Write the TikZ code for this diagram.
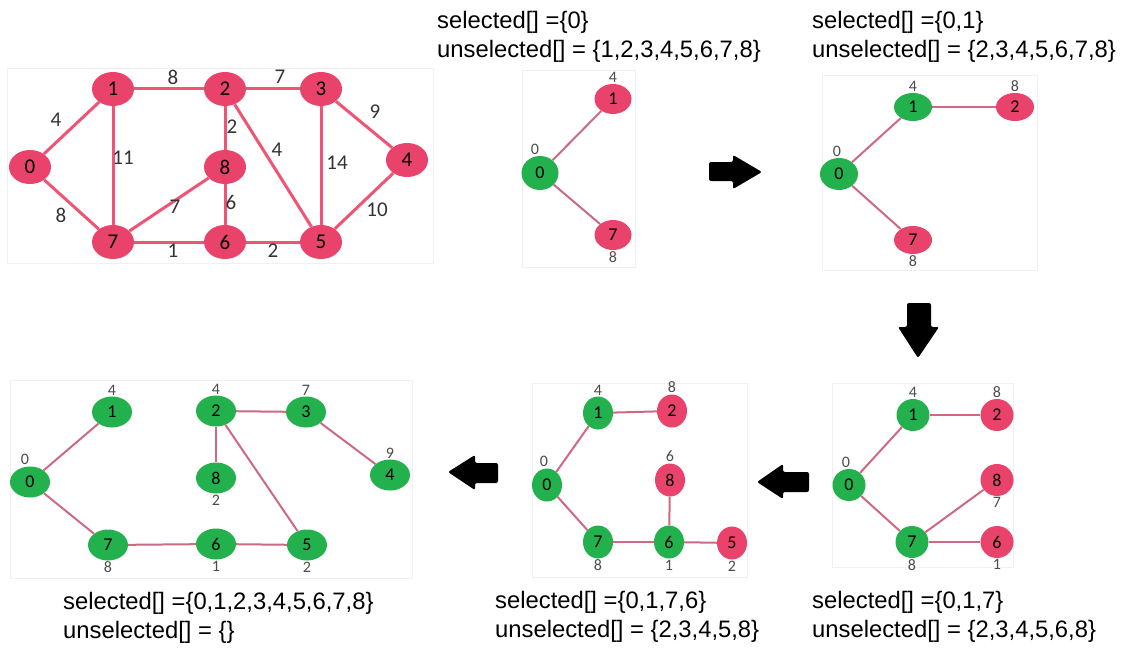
\documentclass[tikz,border=0pt]{standalone}
\usepackage{fontspec}
\setmainfont{Liberation Sans}
\newfontfamily\numfont{Carlito}
\usetikzlibrary{shapes.geometric}
\definecolor{nodered}{RGB}{233,67,107}
\definecolor{nodegreen}{RGB}{34,177,76}
\definecolor{edgered}{RGB}{238,85,117}
\definecolor{edgepink}{RGB}{205,105,128}

\begin{document}
\begin{tikzpicture}
  [x=1pt,y=-1pt,label distance=1pt,
   vsize/.style={minimum width=37pt,minimum height=30pt},
   vred/.style={ellipse,vsize,fill=nodered,inner sep=0pt,font=\numfont\fontsize{18}{18}\selectfont},
   vgreen/.style={ellipse,vsize,fill=nodegreen,inner sep=0pt,font=\numfont\fontsize{18}{18}\selectfont},
   big/.style={minimum width=42pt,minimum height=34pt,font=\numfont\fontsize{21}{21}\selectfont},
   wlab/.style={text=black!80,inner sep=0pt,font=\numfont\fontsize{21}{21}\selectfont},
   dlab/.style={text=black!70,inner sep=0pt,font=\numfont\fontsize{16}{16}\selectfont},
   gedge/.style={line width=3pt,draw=edgered},
   tedge/.style={line width=2pt,draw=edgepink},
   caption/.style={anchor=north west,align=left,inner sep=0pt,font=\fontsize{23.8}{29}\selectfont},
   panel/.style={fill=white,draw=black!6}]
  \fill[white] (0,0) rectangle (1127,650);

  % the graph
  \draw[panel] (7,68) rectangle (433,263);
  \node[vred,big] (a0) at (30,167) {0};
  \node[vred,big] (a1) at (113,89) {1};
  \node[vred,big] (a2) at (225,89) {2};
  \node[vred,big] (a3) at (321,89) {3};
  \node[vred,big] (a4) at (407,160) {4};
  \node[vred,big] (a5) at (321,242) {5};
  \node[vred,big] (a6) at (225,242) {6};
  \node[vred,big] (a7) at (113,242) {7};
  \node[vred,big] (a8) at (225,167) {8};
  \draw[gedge] (a0) -- (a1);
  \draw[gedge] (a0) -- (a7);
  \draw[gedge] (a1) -- (a2);
  \draw[gedge] (a1) -- (a7);
  \draw[gedge] (a2) -- (a3);
  \draw[gedge] (a2) -- (a8);
  \draw[gedge] (a2) -- (a5);
  \draw[gedge] (a3) -- (a4);
  \draw[gedge] (a3) -- (a5);
  \draw[gedge] (a4) -- (a5);
  \draw[gedge] (a5) -- (a6);
  \draw[gedge] (a6) -- (a7);
  \draw[gedge] (a6) -- (a8);
  \draw[gedge] (a7) -- (a8);
  \node[wlab] (w01) at (56,120) {4};
  \node[wlab] (w12) at (173,77) {8};
  \node[wlab] (w23) at (280,77) {7};
  \node[wlab] (w34) at (375,112) {9};
  \node[wlab] (w17) at (123,158) {11};
  \node[wlab] (w28) at (232,127) {2};
  \node[wlab] (w25) at (277,150) {4};
  \node[wlab] (w35) at (337,163) {14};
  \node[wlab] (w78) at (175,207) {7};
  \node[wlab] (w68) at (231,202) {6};
  \node[wlab] (w07) at (61,215) {8};
  \node[wlab] (w67) at (173,251) {1};
  \node[wlab] (w56) at (273,251) {2};
  \node[wlab] (w45) at (377,210) {10};

  % step 1
  \draw[panel] (522,70) rectangle (635,267);
  \node[vgreen,minimum height=34pt] (b0) at (540,173) [label={[dlab,xshift=-5pt]above:0}] {0};
  \node[vred] (b1) at (613,99) [label={[dlab]above:4}] {1};
  \node[vred] (b7) at (613,235) [label={[dlab]below:8}] {7};
  \draw[tedge] (b0) -- (b1);
  \draw[tedge] (b0) -- (b7);
  \node[caption] (t1) at (437,11) {selected[] =\{0\}\\unselected[] = \{1,2,3,4,5,6,7,8\}};

  \fill[rounded corners=2pt] (709,162) -- (733,162) -- (733,155) -- (762,172) -- (733,189) -- (733,181) -- (709,181) -- cycle;

  % step 2
  \draw[panel] (822,75) rectangle (1037,270);
  \begin{scope}[vsize/.style={minimum width=38pt,minimum height=28pt}]
    \node[vgreen] (c1) at (913,107) [label={[dlab]above:4}] {1};
    \node[vred] (c2) at (1015,107) [label={[dlab]above:8}] {2};
    \node[vgreen,minimum height=32pt] (c0) at (839,174) [label={[dlab,xshift=-2pt]above:0}] {0};
    \node[vred] (c7) at (913,240) [label={[dlab]below:8}] {7};
  \end{scope}
  \draw[tedge] (c0) -- (c1);
  \draw[tedge] (c1) -- (c2);
  \draw[tedge] (c0) -- (c7);
  \node[caption] (t2) at (812,11) {selected[] =\{0,1\}\\unselected[] = \{2,3,4,5,6,7,8\}};

  \fill[rounded corners=2pt] (907,303) -- (931,303) -- (931,327) -- (939,327) -- (918,358) -- (898,327) -- (907,327) -- cycle;

  % step 3
  \draw[panel] (832,383) rectangle (1013,567);
  \begin{scope}[vsize/.style={minimum width=33pt,minimum height=32pt}]
    \node[vgreen] (d1) at (913,415) [label={[dlab]above:4}] {1};
    \node[vred] (d2) at (997,415) [label={[dlab]above:8}] {2};
    \node[vgreen] (d0) at (849,485) [label={[dlab,xshift=-3pt]above:0}] {0};
    \node[vred] (d8) at (997,480) [label={[dlab]below:7}] {8};
    \node[vgreen] (d7) at (912,542) [label={[dlab]below:8}] {7};
    \node[vred] (d6) at (997,542) [label={[dlab]below:1}] {6};
  \end{scope}
  \draw[tedge] (d0) -- (d1);
  \draw[tedge] (d1) -- (d2);
  \draw[tedge] (d0) -- (d7);
  \draw[tedge] (d7) -- (d8);
  \draw[tedge] (d7) -- (d6);
  \node[caption] (t3) at (812,591) {selected[] =\{0,1,7\}\\unselected[] = \{2,3,4,5,6,8\}};

  \fill[rounded corners=2pt] (809,472) -- (783,472) -- (783,464) -- (757,482) -- (783,499) -- (783,492) -- (809,492) -- cycle;

  % step 4
  \draw[panel] (532,383) rectangle (747,577);
  \begin{scope}[vsize/.style={minimum width=30pt,minimum height=33pt}]
    \node[vgreen] (e1) at (598,413) [label={[dlab]above:4}] {1};
    \node[vred] (e2) at (672,411) [label={[dlab]above:8}] {2};
    \node[vgreen] (e0) at (547,485) [label={[dlab,xshift=-3pt]above:0}] {0};
    \node[vred] (e8) at (670,480) [label={[dlab]above:6}] {8};
    \node[vgreen] (e7) at (598,542) [label={[dlab]below:8}] {7};
    \node[vgreen] (e6) at (669,542) [label={[dlab]below:1}] {6};
    \node[vred] (e5) at (732,543) [label={[dlab]below:2}] {5};
  \end{scope}
  \draw[tedge] (e0) -- (e1);
  \draw[tedge] (e1) -- (e2);
  \draw[tedge] (e0) -- (e7);
  \draw[tedge] (e7) -- (e6);
  \draw[tedge] (e6) -- (e8);
  \draw[tedge] (e6) -- (e5);
  \node[caption] (t4) at (495,591) {selected[] =\{0,1,7,6\}\\unselected[] = \{2,3,4,5,8\}};

  \fill[rounded corners=2pt] (498,463) -- (475,463) -- (475,455) -- (448,472) -- (475,490) -- (475,483) -- (498,483) -- cycle;

  % step 5
  \draw[panel] (10,380) rectangle (412,578);
  \begin{scope}[vsize/.style={minimum width=40pt,minimum height=31pt}]
    \node[vgreen] (f1) at (112,412) [label={[dlab]above:4}] {1};
    \node[vgreen] (f2) at (216,411) [label={[dlab]above:4}] {2};
    \node[vgreen] (f3) at (306,412) [label={[dlab]above:7}] {3};
    \node[vgreen] (f0) at (30,482) [label={[dlab,xshift=-5pt]above:0}] {0};
    \node[vgreen] (f8) at (216,478) [label={[dlab]below:2}] {8};
    \node[vgreen] (f4) at (390,475) [label={[dlab]above:9}] {4};
    \node[vgreen] (f7) at (108,545) [label={[dlab]below:8}] {7};
    \node[vgreen] (f6) at (216,544) [label={[dlab]below:1}] {6};
    \node[vgreen] (f5) at (307,545) [label={[dlab]below:2}] {5};
  \end{scope}
  \draw[tedge] (f0) -- (f1);
  \draw[tedge] (f0) -- (f7);
  \draw[tedge] (f7) -- (f6);
  \draw[tedge] (f6) -- (f5);
  \draw[tedge] (f2) -- (f3);
  \draw[tedge] (f2) -- (f8);
  \draw[tedge] (f2) -- (f5);
  \draw[tedge] (f3) -- (f4);
  \node[caption] (t5) at (63,592) {selected[] =\{0,1,2,3,4,5,6,7,8\}\\unselected[] = \{\}};
\end{tikzpicture}
\end{document}
